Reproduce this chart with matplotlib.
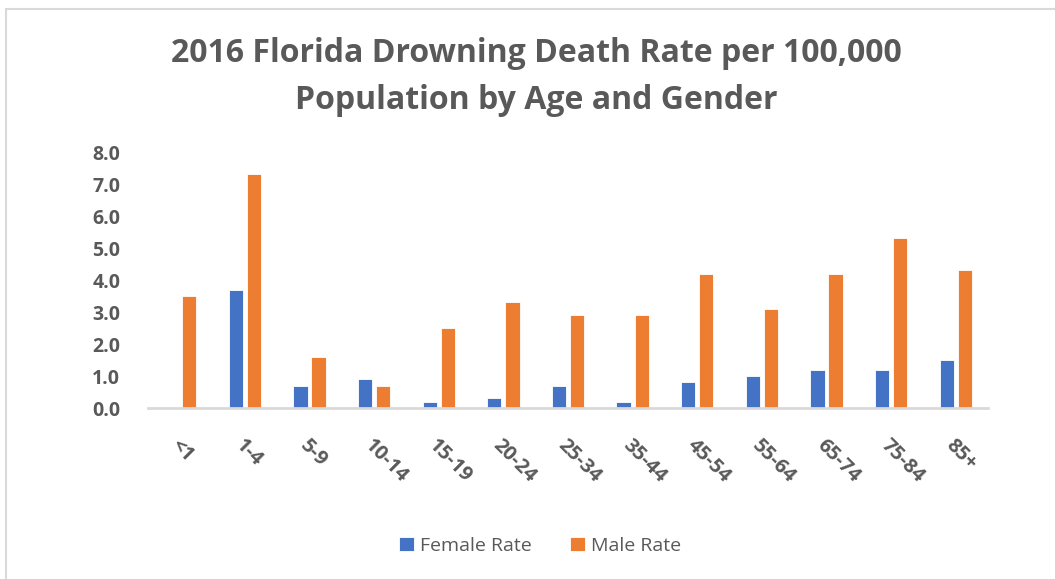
import matplotlib
matplotlib.use("Agg")
import matplotlib.pyplot as plt
import numpy as np
from matplotlib.patches import Rectangle

# Data
age_groups = ['<1', '1-4', '5-9', '10-14', '15-19', '20-24', '25-34',
              '35-44', '45-54', '55-64', '65-74', '75-84', '85+']
female_rate = [0.0, 3.7, 0.7, 0.9, 0.2, 0.3, 0.7, 0.2, 0.8, 1.0, 1.2, 1.2, 1.5]
male_rate = [3.5, 7.3, 1.6, 0.7, 2.5, 3.3, 2.9, 2.9, 4.2, 3.1, 4.2, 5.3, 4.3]
y_ticks = [0, 1, 2, 3, 4, 5, 6, 7, 8]

blue = '#4472C4'
orange = '#ED7D31'
text_gray = '#595959'
line_gray = '#D9D9D9'

plt.rcParams['font.family'] = ['Open Sans', 'DejaVu Sans']

fig = plt.figure(figsize=(10.55, 5.79), dpi=100)
fig.patch.set_facecolor('white')

# chart border (only left and top visible in the crop)
fig.patches.append(Rectangle((6 / 1055, -0.1), 1.2, 1 - 9 / 579 + 0.1,
                             transform=fig.transFigure, fill=False,
                             edgecolor=line_gray, linewidth=1.5))

ax = fig.add_axes([148 / 1055, 1 - 408 / 579, 840 / 1055, 256 / 579])

x = np.arange(len(age_groups))
w = 0.22
gap = 0.06
ax.bar(x - (w + gap) / 2, female_rate, width=w, color=blue,
       edgecolor='white', linewidth=0.6, label='Female Rate')
ax.bar(x + (w + gap) / 2, male_rate, width=w, color=orange,
       edgecolor='white', linewidth=0.6, label='Male Rate')

ax.set_xlim(-0.5, len(age_groups) - 0.5)
ax.set_ylim(0, 8)
ax.set_yticks(y_ticks)
ax.set_yticklabels([f'{v:.1f}' for v in y_ticks], fontsize=14,
                   fontweight='bold', color=text_gray)
ax.set_xticks(x)
ax.set_xticklabels(age_groups, rotation=-45, ha='left', va='top',
                   rotation_mode='anchor', fontsize=14.5, fontweight='bold',
                   color=text_gray)
ax.tick_params(axis='both', length=0)
ax.tick_params(axis='x', pad=20)
ax.tick_params(axis='y', pad=20)

for side in ['top', 'right', 'left']:
    ax.spines[side].set_visible(False)
ax.spines['bottom'].set_color(line_gray)
ax.spines['bottom'].set_linewidth(2)

fig.text(536 / 1055, 1 - 77 / 579,
         '2016 Florida Drowning Death Rate per 100,000\nPopulation by Age and Gender',
         ha='center', va='center', fontsize=23, fontweight='bold',
         color=text_gray, linespacing=1.55)

fig.legend(loc='center', bbox_to_anchor=(540 / 1055, 1 - 546 / 579), ncol=2,
           frameon=False, fontsize=14, labelcolor=text_gray,
           handlelength=0.75, handleheight=0.75, handletextpad=0.3,
           columnspacing=2.0)

fig.savefig('out.png', dpi=100, facecolor='white')
